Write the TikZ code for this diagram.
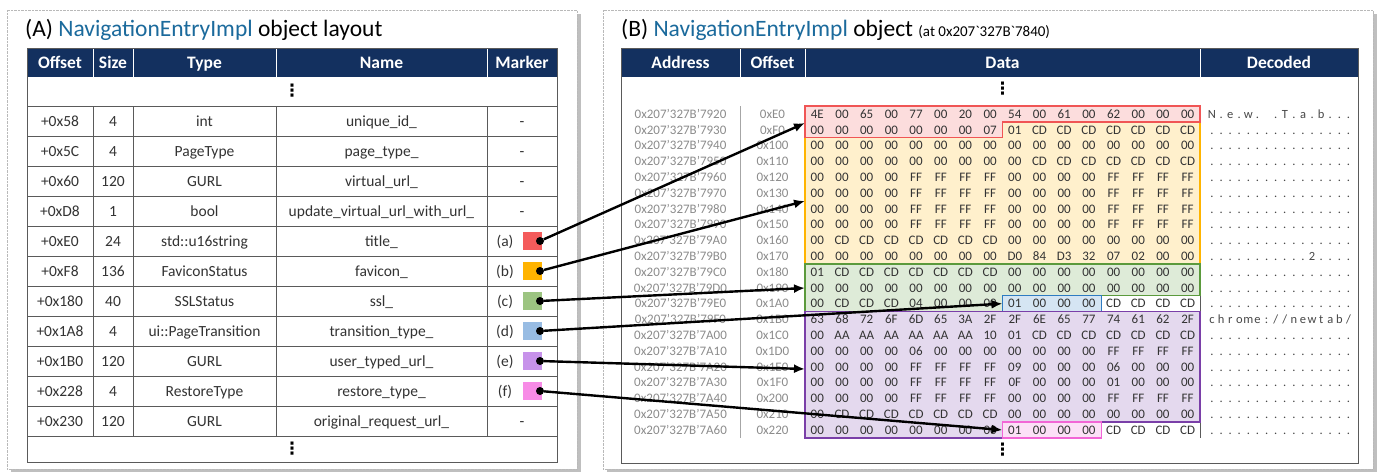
\documentclass[tikz,border=0pt]{standalone}
\usepackage{fontspec}
\setmainfont{Carlito}
\newfontfamily\symfont{DejaVu Sans}
\usepackage{xcolor}
\usetikzlibrary{arrows.meta,positioning,calc}
\definecolor{navy}{HTML}{13305F}
\definecolor{tblue}{HTML}{1B6A9C}
\definecolor{ink}{HTML}{333333}
\definecolor{addrg}{HTML}{8C8C8C}
\definecolor{rulegray}{HTML}{5A5A5A}
\definecolor{rred}{HTML}{F05555}
\definecolor{rorange}{HTML}{FFB400}
\definecolor{rgreen}{HTML}{5B9A3C}
\definecolor{rblue}{HTML}{2E7BC2}
\definecolor{rpurple}{HTML}{7A3FA8}
\definecolor{rpink}{HTML}{F266D6}
\definecolor{sred}{HTML}{F45B5B}
\definecolor{sorange}{HTML}{FFB300}
\definecolor{sgreen}{HTML}{9CC481}
\definecolor{sblue}{HTML}{98BCE3}
\definecolor{spurple}{HTML}{C792EA}
\definecolor{spink}{HTML}{F78BE6}
\tikzset{
  panel/.style={draw=gray!55, densely dotted, fill=white},
  pshadow/.style={fill=black!25},
  ptitle/.style={anchor=base west, inner sep=0pt, font=\fontsize{23.5}{26}\selectfont},
  hdr/.style={anchor=base, text=white, inner sep=0pt, font=\bfseries\fontsize{17.5}{20}\selectfont},
  cell/.style={anchor=base, text=ink, inner sep=0pt, font=\fontsize{15.5}{18}\selectfont},
  tblrule/.style={draw=rulegray, line width=0.8pt},
  addr/.style={anchor=base, text=addrg, inner sep=0pt, font=\fontsize{13}{15}\selectfont},
  byte/.style={anchor=base, text=ink, inner sep=0pt, font=\fontsize{13}{15}\selectfont},
  dec/.style={anchor=base, text=ink!90, inner sep=0pt, font=\fontsize{12.5}{14}\selectfont},
  region/.style={draw=#1, fill=#1!20, line width=1.5pt},
  swatch/.style={fill=#1, minimum width=19pt, minimum height=18pt, inner sep=0pt},
  knob/.style={circle, fill=black, minimum size=8pt, inner sep=0pt},
  link/.style={-{Latex[length=11pt,width=9pt]}, line width=2.4pt},
  vdot/.style={inner sep=0pt, text=black, font=\symfont\bfseries\fontsize{17}{18}\selectfont}
}

\begin{document}
\begin{tikzpicture}[x=1pt,y=-1pt]
  \useasboundingbox (0,0) rectangle (1381,472);
  \fill[pshadow] (11,14) rectangle (581,472);
  \fill[pshadow] (607,14) rectangle (1377,472);
  \draw[panel] (7,10) rectangle (577,469);
  \draw[panel] (603,10) rectangle (1373,469);

  \node[ptitle] (ttlA) at (25,36) {(A) \textcolor{tblue}{NavigationEntryImpl} object layout};
  \node[ptitle] (ttlB) at (621,36) {(B) \textcolor{tblue}{NavigationEntryImpl} object
    {\fontsize{15}{17}\selectfont (at 0x207\textasciigrave 327B\textasciigrave 7840)}};

  % left table
  \fill[navy] (27,48) rectangle (557,77);
  \foreach \x in {93,133,276,487}
    \draw[white, line width=1pt] (\x,48) -- (\x,77);
  \node[hdr] (hOff) at (60,68) {Offset};
  \node[hdr] (hSize) at (113,68) {Size};
  \node[hdr] (hType) at (204.5,68) {Type};
  \node[hdr] (hName) at (381.5,68) {Name};
  \node[hdr] (hMark) at (522,68) {Marker};
  \draw[tblrule] (27,48) rectangle (557,462);
  \foreach \y in {106,136,166,196,226,256,286,316,346,376,406,436}
    \draw[tblrule] (27,\y) -- (557,\y);
  \foreach \x in {93,133,276,487}
    \draw[tblrule] (\x,106) -- (\x,436);
  \node[vdot] (dotA1) at (292,91) {⋮};
  \node[vdot] (dotA2) at (292,449) {⋮};
  \foreach \off/\sz/\ty/\nm/\mk [count=\k from 0] in {
      +0x58/4/int/unique\_id\_/-,
      +0x5C/4/PageType/page\_type\_/-,
      +0x60/120/GURL/virtual\_url\_/-,
      +0xD8/1/bool/update\_virtual\_url\_with\_url\_/-,
      +0xE0/24/std::u16string/title\_/{},
      +0xF8/136/FaviconStatus/favicon\_/{},
      +0x180/40/SSLStatus/ssl\_/{},
      +0x1A8/4/ui::PageTransition/transition\_type\_/{},
      +0x1B0/120/GURL/user\_typed\_url\_/{},
      +0x228/4/RestoreType/restore\_type\_/{},
      +0x230/120/GURL/original\_request\_url\_/-} {
    \node[cell] (lo\k) at (60,{126+30*\k}) {\off};
    \node[cell] (ls\k) at (113,{126+30*\k}) {\sz};
    \node[cell] (lt\k) at (204.5,{126+30*\k}) {\ty};
    \node[cell] (ln\k) at (381.5,{126+30*\k}) {\nm};
    \node[cell] (lm\k) at (522,{126+30*\k}) {\mk};
  }
  \foreach \l/\c/\k in {a/sred/4,b/sorange/5,c/sgreen/6,d/sblue/7,e/spurple/8,f/spink/9} {
    \node[cell] (ml\l) at (505,{126+30*\k}) {(\l)};
    \node[swatch=\c] (s\l) at (532.5,{121+30*\k}) {};
    \node[knob] (k\l) at (540,{121+30*\k}) {};
  }

  % right table
  \fill[navy] (621,48) rectangle (1358,77);
  \foreach \x in {740,805,1200}
    \draw[white, line width=1pt] (\x,48) -- (\x,77);
  \node[hdr] (hAdr) at (680.5,68) {Address};
  \node[hdr] (hOfs) at (772.5,68) {Offset};
  \node[hdr] (hDat) at (1002.5,68) {Data};
  \node[hdr] (hDec) at (1279,68) {Decoded};
  \draw[tblrule] (621,48) rectangle (1358,463);
  \draw[draw=gray!70, line width=1pt] (740,106) -- (740,438);
  \draw[tblrule] (1200,106) -- (1200,438);
  \node[vdot] (dotB1) at (1002.5,89) {⋮};
  \node[vdot] (dotB2) at (1002.5,450) {⋮};

  \draw[region=rorange] (1002.5,121.9) -- (1200,121.9) -- (1200,264.1) -- (805,264.1)
    -- (805,137.7) -- (1002.5,137.7) -- cycle;
  \draw[region=rred] (805,106.1) -- (1200,106.1) -- (1200,121.9) -- (1002.5,121.9)
    -- (1002.5,137.7) -- (805,137.7) -- cycle;
  \draw[region=rgreen] (805,264.1) -- (1200,264.1) -- (1200,295.7) -- (1002.5,295.7)
    -- (1002.5,311.5) -- (805,311.5) -- cycle;
  \draw[region=rblue] (1002.5,295.7) rectangle (1101.3,311.5);
  \draw[region=rpurple] (805,311.5) -- (1200,311.5) -- (1200,422.1) -- (1002.5,422.1)
    -- (1002.5,437.9) -- (805,437.9) -- cycle;
  \draw[region=rpink] (1002.5,422.1) rectangle (1101.3,437.9);

  \foreach \adr/\off/\bytes [count=\r from 0] in {
      7920/E0/{4E,00,65,00,77,00,20,00,54,00,61,00,62,00,00,00},
      7930/F0/{00,00,00,00,00,00,00,07,01,CD,CD,CD,CD,CD,CD,CD},
      7940/100/{00,00,00,00,00,00,00,00,00,00,00,00,00,00,00,00},
      7950/110/{00,00,00,00,00,00,00,00,00,CD,CD,CD,CD,CD,CD,CD},
      7960/120/{00,00,00,00,FF,FF,FF,FF,00,00,00,00,FF,FF,FF,FF},
      7970/130/{00,00,00,00,FF,FF,FF,FF,00,00,00,00,FF,FF,FF,FF},
      7980/140/{00,00,00,00,FF,FF,FF,FF,00,00,00,00,FF,FF,FF,FF},
      7990/150/{00,00,00,00,FF,FF,FF,FF,00,00,00,00,FF,FF,FF,FF},
      79A0/160/{00,CD,CD,CD,CD,CD,CD,CD,00,00,00,00,00,00,00,00},
      79B0/170/{00,00,00,00,00,00,00,00,D0,84,D3,32,07,02,00,00},
      79C0/180/{01,CD,CD,CD,CD,CD,CD,CD,00,00,00,00,00,00,00,00},
      79D0/190/{00,00,00,00,00,00,00,00,00,00,00,00,00,00,00,00},
      79E0/1A0/{00,CD,CD,CD,04,00,00,00,01,00,00,00,CD,CD,CD,CD},
      79F0/1B0/{63,68,72,6F,6D,65,3A,2F,2F,6E,65,77,74,61,62,2F},
      7A00/1C0/{00,AA,AA,AA,AA,AA,AA,10,01,CD,CD,CD,CD,CD,CD,CD},
      7A10/1D0/{00,00,00,00,06,00,00,00,00,00,00,00,FF,FF,FF,FF},
      7A20/1E0/{00,00,00,00,FF,FF,FF,FF,09,00,00,00,06,00,00,00},
      7A30/1F0/{00,00,00,00,FF,FF,FF,FF,0F,00,00,00,01,00,00,00},
      7A40/200/{00,00,00,00,FF,FF,FF,FF,00,00,00,00,FF,FF,FF,FF},
      7A50/210/{00,CD,CD,CD,CD,CD,CD,CD,00,00,00,00,00,00,00,00},
      7A60/220/{00,00,00,00,00,00,00,00,01,00,00,00,CD,CD,CD,CD}} {
    \node[addr] (ra\r) at (680.5,{118.3+15.8*\r}) {0x207’327B’\adr};
    \node[addr] (ro\r) at (772.5,{118.3+15.8*\r}) {0x\off};
    \foreach \b [count=\c from 0] in \bytes
      \node[byte] (b\r-\c) at ({817.3+24.69*\c},{118.3+15.8*\r}) {\b};
  }

  \foreach \r in {1,2,3,4,5,6,7,8,10,11,12,14,15,16,17,18,19,20}
    \foreach \c in {0,...,15}
      \node[dec] (dc\r-\c) at ({1212+9.1*\c},{118.3+15.8*\r}) {.};
  \foreach \ch [count=\c from 0] in {N,.,e,.,w,.,{},.,T,.,a,.,b,.,.,.}
    \node[dec] (dc0-\c) at ({1212+9.1*\c},118.3) {\ch};
  \foreach \ch [count=\c from 0] in {.,.,.,.,.,.,.,.,.,.,.,2,.,.,.,.}
    \node[dec] (dc9-\c) at ({1212+9.1*\c},{118.3+15.8*9}) {\ch};
  \foreach \ch [count=\c from 0] in {c,h,r,o,m,e,:,/,/,n,e,w,t,a,b,/}
    \node[dec] (dc13-\c) at ({1212+9.1*\c},{118.3+15.8*13}) {\ch};

  \coordinate (ta) at (805,123);
  \coordinate (tb) at (805,201);
  \coordinate (tc) at (805,288);
  \coordinate (td) at (1002.5,303.6);
  \coordinate (te) at (805,369);
  \coordinate (tf) at (1002.5,430);
  \draw[link] (ka) -- (ta);
  \draw[link] (kb) -- (tb);
  \draw[link] (kc) -- (tc);
  \draw[link] (kd) -- (td);
  \draw[link] (ke) -- (te);
  \draw[link] (kf) -- (tf);
\end{tikzpicture}
\end{document}
